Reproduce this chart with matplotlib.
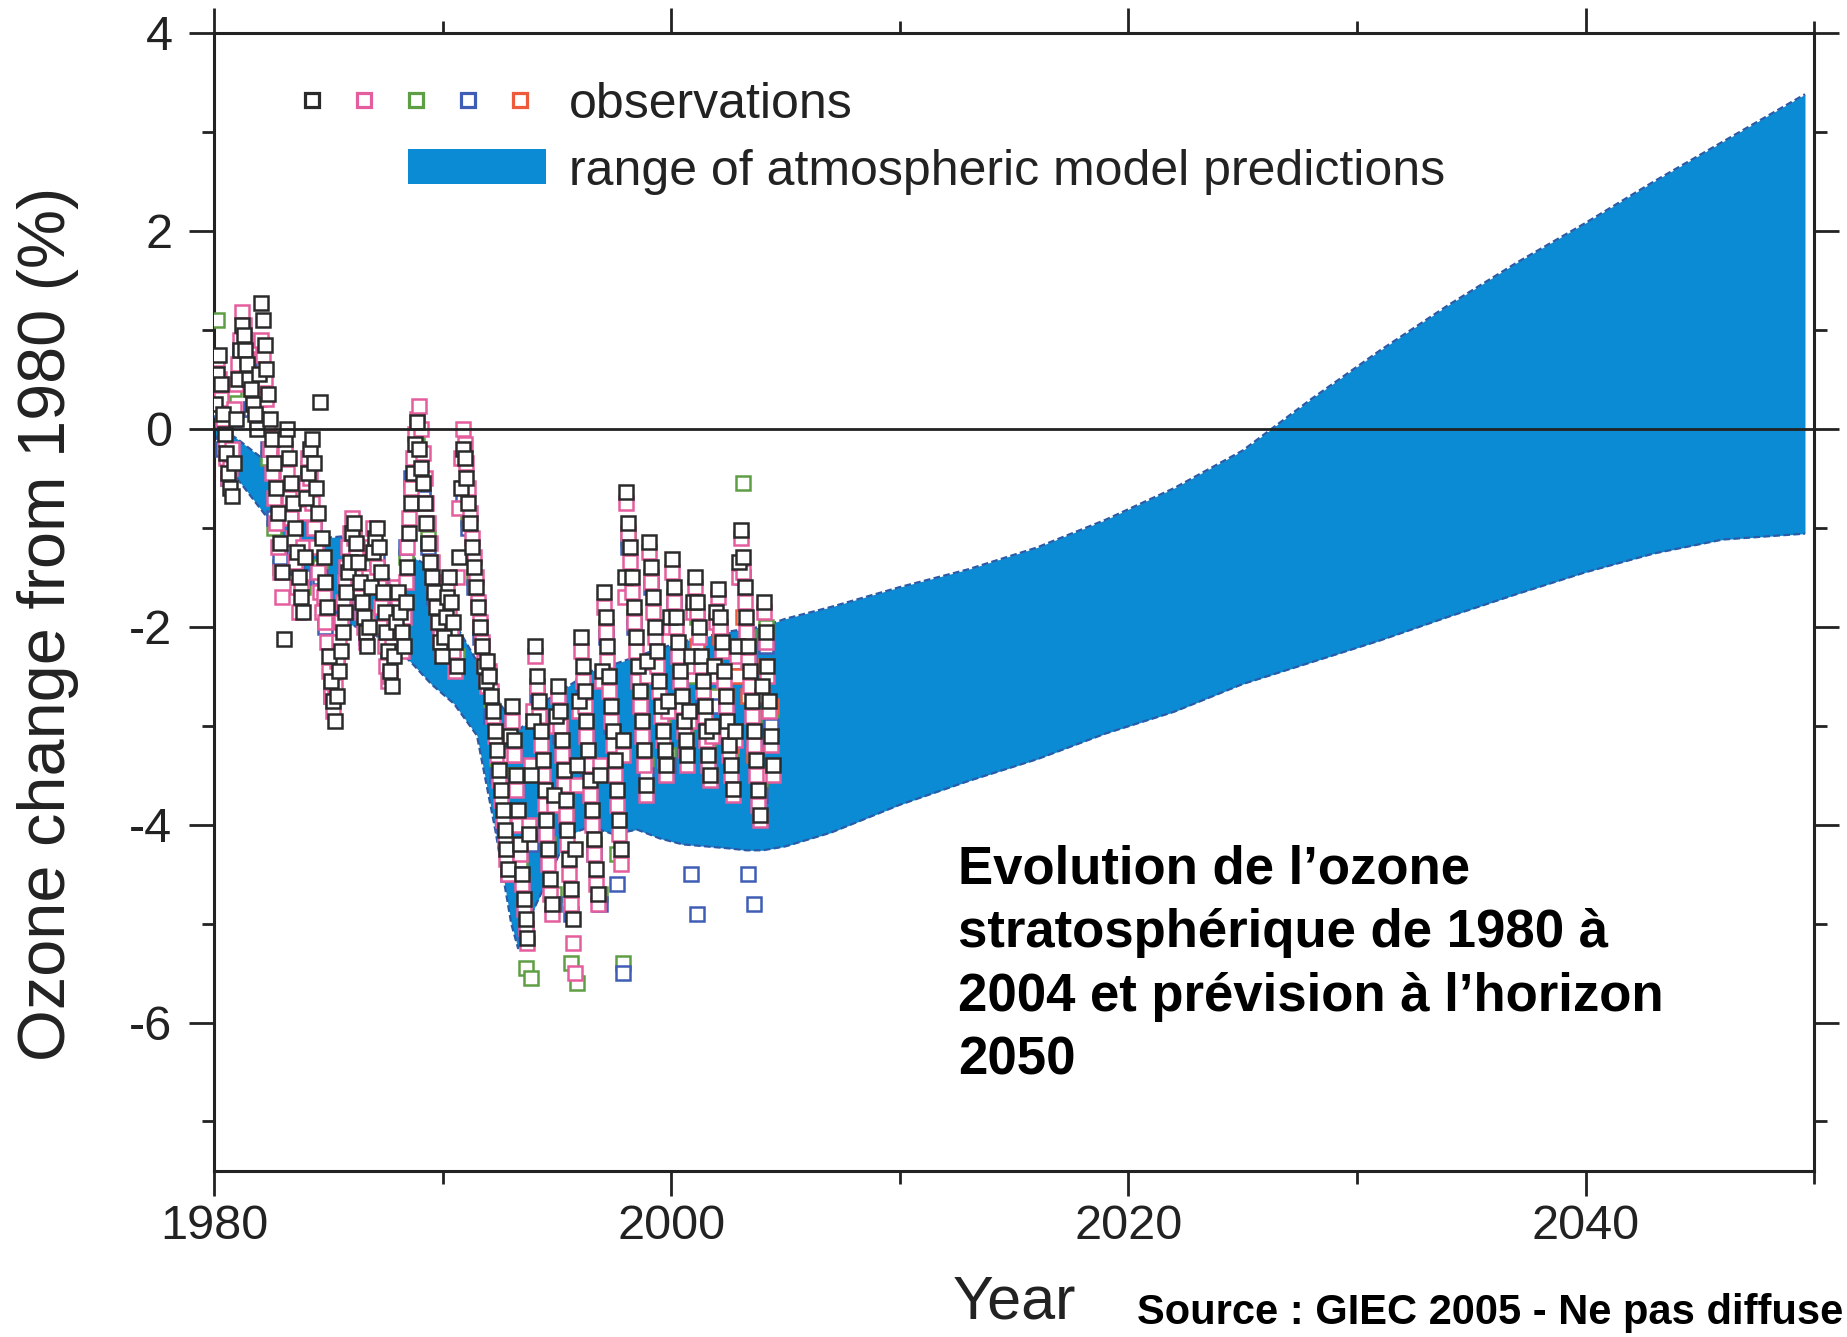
import matplotlib
matplotlib.use("Agg")
import matplotlib.pyplot as plt
from matplotlib.lines import Line2D
from matplotlib.patches import Patch, Rectangle
from matplotlib.legend_handler import HandlerTuple, HandlerPatch
from matplotlib.ticker import MultipleLocator

plt.rcParams['font.family'] = ['Liberation Sans', 'DejaVu Sans']
plt.rcParams['axes.unicode_minus'] = False

# Model range (percent change from 1980), lower and upper edge.
band_year = [1980.0, 1981.0, 1982.0, 1983.0, 1984.0, 1985.0, 1986.0, 1987.0, 1988.0,
             1988.7, 1989.5, 1990.5, 1991.5, 1992.3, 1993.0, 1993.3, 1993.8, 1994.5,
             1995.5, 1996.5, 1997.5, 1998.5, 1999.5, 2000.5, 2001.5, 2002.5, 2003.3,
             2004.0, 2005, 2007, 2010, 2013, 2016, 2019, 2022, 2025, 2028, 2031, 2034,
             2037, 2040, 2043, 2046, 2049.6]
band_low = [-0.05, -0.5, -0.8, -1.1, -1.42, -1.8, -1.98, -2.08, -2.22,
            -2.38, -2.58, -2.78, -3.1, -4.05, -5.0, -5.25, -4.95, -4.6,
            -4.1, -4.02, -4.1, -4.05, -4.14, -4.2, -4.22, -4.24, -4.26,
            -4.26, -4.22, -4.08, -3.8, -3.56, -3.34, -3.08, -2.86, -2.58, -2.36, -2.14, -1.9,
            -1.67, -1.45, -1.26, -1.12, -1.06]
band_high = [0.05, -0.1, -0.28, -0.6, -0.9, -1.1, -1.08, -1.45, -1.55,
             -1.3, -1.4, -1.95, -2.35, -2.7, -2.95, -3.05, -2.95, -2.75,
             -2.6, -2.45, -2.38, -2.3, -2.22, -2.15, -2.1, -2.05, -2.02,
             -2.0, -1.92, -1.8, -1.6, -1.42, -1.2, -0.92, -0.6, -0.22, 0.3, 0.79, 1.25,
             1.68, 2.08, 2.5, 2.9, 3.38]

# Monthly observations, one row per year from 1980 (2004 is half a year).
obs_black = [
    [0.25, 0.55, 0.75, 0.45, 0.15, -0.05, -0.25, -0.45, -0.6, -0.68, -0.35, 0.1],
    [0.5, 0.8, 1.05, 0.95, 0.8, 0.65, 0.5, 0.4, 0.25, 0.15, 0.0, 0.55],
    [1.27, 1.1, 0.85, 0.6, 0.35, 0.1, -0.1, -0.35, -0.6, -0.85, -1.15, -1.45],
    [-2.12, -0.1, 0.0, -0.3, -0.55, -0.75, -1.0, -1.25, -1.5, -1.7, -1.85, -1.3],
    [-0.7, -0.45, -0.2, -0.1, -0.35, -0.6, -0.85, 0.27, -1.1, -1.3, -1.55, -1.8],
    [-2.3, -2.55, -2.75, -2.95, -2.7, -2.45, -2.25, -2.05, -1.85, -1.65, -1.45, -1.35],
    [-1.05, -0.95, -1.15, -1.35, -1.55, -1.75, -1.9, -2.05, -2.2, -2.0, -1.6, -1.25],
    [-1.1, -1.0, -1.2, -1.45, -1.65, -1.85, -2.05, -2.25, -2.45, -2.6, -2.3, -1.95],
    [-1.65, -1.85, -2.05, -2.2, -1.75, -1.4, -1.05, -0.75, -0.45, -0.15, 0.07, -0.2],
    [-0.4, -0.55, -0.75, -0.95, -1.15, -1.35, -1.5, -1.65, -1.8, -1.95, -2.15, -2.3],
    [-2.1, -1.9, -1.7, -1.5, -1.75, -1.95, -2.15, -2.4, -1.3, -0.6, -0.2, -0.3],
    [-0.5, -0.75, -0.95, -1.2, -1.4, -1.6, -1.8, -2.0, -2.2, -2.4, -2.55, -2.35],
    [-2.5, -2.7, -2.85, -3.05, -3.25, -3.45, -3.65, -3.85, -4.05, -4.25, -4.45, -3.1],
    [-2.8, -3.15, -3.5, -3.85, -4.2, -4.5, -4.75, -4.95, -5.15, -4.1, -3.5, -2.95],
    [-2.2, -2.5, -2.75, -3.05, -3.35, -3.65, -3.95, -4.25, -4.55, -4.8, -3.7, -2.9],
    [-2.6, -2.85, -3.15, -3.45, -3.75, -4.05, -4.35, -4.65, -4.95, -4.25, -3.4, -2.75],
    [-2.1, -2.4, -2.65, -2.95, -3.25, -3.55, -3.85, -4.15, -4.45, -4.7, -3.5, -2.45],
    [-1.65, -1.9, -2.2, -2.5, -2.8, -3.05, -3.35, -3.65, -3.95, -4.25, -3.15, -1.5],
    [-0.64, -0.95, -1.2, -1.5, -1.8, -2.1, -2.4, -2.65, -2.95, -3.25, -3.6, -2.35],
    [-1.14, -1.4, -1.7, -2.0, -2.25, -2.55, -2.8, -3.05, -3.25, -3.4, -2.75, -1.9],
    [-1.32, -1.6, -1.9, -2.15, -2.45, -2.7, -2.95, -3.15, -3.3, -2.85, -2.3, -1.75],
    [-1.5, -1.75, -2.0, -2.3, -2.55, -2.8, -3.05, -3.3, -3.5, -3.0, -2.4, -1.85],
    [-1.62, -1.9, -2.15, -2.45, -2.7, -2.95, -3.2, -3.4, -3.64, -3.05, -2.2, -1.35],
    [-1.02, -1.3, -1.6, -1.9, -2.2, -2.45, -2.75, -3.05, -3.35, -3.65, -3.9, -2.6],
    [-1.75, -2.05, -2.4, -2.75, -3.1, -3.4],
]
obs_pink = [
    [0.55, 0.7, 0.5, 0.3, 0.1, -0.1, -0.3, -0.5, -0.4, -0.2, 0.2, 0.45],
    [0.65, 0.9, 1.18, 1.05, 0.9, 0.7, 0.55, 0.4, 0.34, 0.2, 0.05, 0.3],
    [0.9, 0.75, 0.5, 0.3, 0.05, -0.2, -0.45, -0.7, -0.95, -1.2, -1.45, -1.7],
    [-0.3, -0.2, -0.45, -0.7, -0.9, -1.1, -1.35, -1.6, -1.85, -1.6, -1.2, -0.85],
    [-0.55, -0.3, -0.5, -0.75, -1.0, -1.2, -1.45, -1.65, -1.85, -1.7, -1.95, -2.15],
    [-2.45, -2.7, -2.85, -2.6, -2.35, -2.15, -1.95, -1.75, -1.55, -1.4, -1.2, -1.05],
    [-0.9, -1.1, -1.3, -1.5, -1.7, -1.85, -2.0, -2.15, -1.9, -1.5, -1.2, -1.0],
    [-1.2, -1.4, -1.6, -1.8, -2.0, -2.2, -2.4, -2.55, -2.5, -2.2, -1.9, -1.6],
    [-1.8, -2.0, -2.25, -1.9, -1.55, -1.2, -0.9, -0.6, -0.3, -0.05, 0.1, 0.23],
    [0.0, -0.25, -0.5, -0.75, -0.95, -1.15, -1.35, -1.55, -1.75, -1.95, -2.1, -2.25],
    [-2.0, -1.8, -1.6, -1.85, -2.05, -2.25, -2.45, -1.5, -0.8, -0.3, 0.0, -0.15],
    [-0.35, -0.6, -0.85, -1.1, -1.3, -1.5, -1.75, -1.95, -2.15, -2.35, -2.5, -2.6],
    [-2.45, -2.65, -2.9, -3.1, -3.3, -3.55, -3.75, -3.95, -4.15, -4.35, -4.5, -3.3],
    [-2.95, -3.3, -3.65, -4.0, -4.3, -4.6, -4.85, -5.05, -5.2, -4.0, -3.4, -2.85],
    [-2.3, -2.6, -2.9, -3.2, -3.5, -3.8, -4.1, -4.4, -4.7, -4.9, -3.8, -3.0],
    [-2.7, -3.0, -3.3, -3.6, -3.9, -4.2, -4.5, -4.8, -5.2, -5.5, -3.6, -2.85],
    [-2.25, -2.55, -2.8, -3.1, -3.4, -3.7, -4.0, -4.3, -4.6, -4.8, -3.4, -2.55],
    [-1.8, -2.05, -2.35, -2.65, -2.95, -3.2, -3.5, -3.8, -4.1, -4.4, -3.3, -1.7],
    [-0.75, -1.05, -1.35, -1.65, -1.95, -2.25, -2.55, -2.8, -3.1, -3.4, -3.7, -2.5],
    [-1.25, -1.55, -1.85, -2.1, -2.4, -2.65, -2.9, -3.15, -3.35, -3.5, -2.85, -2.0],
    [-1.45, -1.75, -2.0, -2.3, -2.55, -2.8, -3.05, -3.25, -3.4, -2.95, -2.4, -1.85],
    [-1.6, -1.85, -2.1, -2.4, -2.65, -2.9, -3.15, -3.4, -3.55, -3.1, -2.5, -1.95],
    [-1.7, -2.0, -2.25, -2.55, -2.8, -3.05, -3.3, -3.5, -3.7, -3.15, -2.3, -1.5],
    [-1.1, -1.45, -1.75, -2.05, -2.35, -2.6, -2.9, -3.2, -3.5, -3.8, -3.95, -2.7],
    [-1.85, -2.15, -2.5, -2.85, -3.2, -3.5],
]

# Quarterly observations, one row per year from 1980.
obs_green = [
    [1.1, 0.3, -0.3, 0.4], [0.7, 0.6, 0.2, 0.3], [0.4, -0.3, -1.0, -1.4],
    [-0.2, -0.8, -1.4, -1.6], [-0.4, -0.9, -1.4, -1.9], [-2.6, -2.2, -1.8, -1.4],
    [-1.1, -1.6, -2.0, -1.4], [-1.2, -1.7, -2.2, -2.1], [-2.0, -1.3, -0.6, -0.1],
    [-0.6, -1.1, -1.6, -2.0], [-1.8, -2.0, -2.3, -0.6], [-0.9, -1.5, -2.0, -2.45],
    [-2.8, -3.4, -3.9, -4.4], [-3.5, -4.4, -5.45, -5.55], [-2.6, -3.4, -4.2, -4.7],
    [-3.0, -3.9, -5.4, -5.6], [-2.6, -3.4, -4.2, -4.7], [-2.0, -2.8, -4.3, -5.4],
    [-1.1, -1.9, -2.7, -3.4], [-1.5, -2.3, -3.0, -3.3], [-1.7, -2.4, -3.1, -2.5],
    [-1.9, -2.6, -3.2, -2.7], [-2.0, -2.7, -3.3, -2.4], [-0.55, -2.1, -2.9, -3.6],
    [-2.0, -2.9],
]
obs_blue = [
    [0.2, -0.2, -0.5, 0.1], [0.8, 0.5, 0.2, 0.1], [0.6, -0.2, -0.9, -1.3],
    [-0.3, -0.9, -1.4, -1.5], [-0.5, -1.0, -1.5, -2.0], [-2.7, -2.3, -1.9, -1.5],
    [-1.2, -1.7, -2.1, -1.5], [-1.3, -1.8, -2.3, -2.0], [-1.9, -1.2, -0.5, -0.3],
    [-0.7, -1.2, -1.7, -2.1], [-1.9, -2.1, -2.4, -0.7], [-1.0, -1.6, -2.1, -2.5],
    [-2.9, -3.5, -4.0, -4.5], [-3.6, -4.5, -5.1, -4.2], [-2.7, -3.5, -4.3, -4.8],
    [-3.1, -4.0, -4.9, -3.6], [-2.7, -3.5, -4.3, -4.8], [-2.1, -3.0, -4.6, -5.5],
    [-1.2, -2.0, -2.8, -3.5], [-1.6, -2.4, -3.1, -3.4], [-1.8, -2.5, -3.2, -4.5],
    [-4.9, -2.7, -3.3, -2.8], [-2.1, -2.8, -3.4, -2.5], [-1.5, -4.5, -4.8, -3.7],
    [-2.2, -3.0],
]
# Quarterly, 2001 to mid-2004.
obs_orange = [[-2.2, -2.6, -3.0, -2.4], [-2.1, -2.7, -3.2, -2.5],
              [-1.9, -2.7, -3.3, -3.5], [-2.4, -2.8]]

obs_colors = ['#2a2a2a', '#e45d9d', '#5e9e44', '#3f5db5', '#ee5a3c']
band_color = '#0b8bd4'
edge_color = '#2b5aa6'


def series_xy(rows, start, per_year):
    xs, ys = [], []
    for i, row in enumerate(rows):
        for k, v in enumerate(row):
            xs.append(start + i + (k + 0.5) / per_year)
            ys.append(v)
    return xs, ys


fig = plt.figure(figsize=(18.47, 13.37), dpi=100)
ax = fig.add_axes([0.1159, 0.1242, 0.8663, 0.8512])

ax.fill_between(band_year, band_low, band_high, color=band_color, lw=0, zorder=1)
ax.plot(band_year, band_high, color=edge_color, lw=1.6, ls=(0, (3, 1.5)), zorder=1.5)
ax.plot(band_year, band_low, color=edge_color, lw=1.6, ls=(0, (3, 1.5)), zorder=1.5)

ax.axhline(0, color='#222222', lw=2.0, zorder=4)

groups = [(obs_green, 1980, 4, obs_colors[2]),
          (obs_blue, 1980, 4, obs_colors[3]),
          (obs_orange, 2001, 4, obs_colors[4]),
          (obs_pink, 1980, 12, obs_colors[1]),
          (obs_black, 1980, 12, obs_colors[0])]
for rows, start, per_year, col in groups:
    xs, ys = series_xy(rows, start, per_year)
    ax.plot(xs, ys, ls='none', marker='s', ms=10, mfc='white', mec=col,
            mew=1.8, zorder=3)

ax.set_xlim(1980, 2050)
ax.set_ylim(-7.5, 4)
ax.xaxis.set_major_locator(MultipleLocator(20))
ax.xaxis.set_minor_locator(MultipleLocator(10))
ax.yaxis.set_major_locator(MultipleLocator(2))
ax.yaxis.set_minor_locator(MultipleLocator(1))
ax.tick_params(which='both', direction='out', top=True, right=True,
               width=2, color='#222222', labelsize=35, labelcolor='#222222')
ax.tick_params(which='major', length=18)
ax.tick_params(which='minor', length=9)
ax.tick_params(axis='x', pad=6)
ax.tick_params(axis='y', pad=12)
for sp in ax.spines.values():
    sp.set_linewidth(2.2)
    sp.set_color('#222222')

ax.set_ylabel('Ozone change from 1980 (%)', fontsize=48, color='#222222')
ax.yaxis.set_label_coords(-0.0844, 0.481)
ax.set_xlabel('Year', fontsize=44, color='#222222')
ax.xaxis.set_label_coords(0.5, -0.091)

# Legend
obs_handle = tuple(Line2D([], [], ls='none', marker='s', ms=9.5, mfc='white',
                          mec=c, mew=2.3) for c in obs_colors)
band_handle = Patch(facecolor=band_color, edgecolor='none')


def band_patch(legend, orig_handle, xdescent, ydescent, width, height, fontsize):
    return Rectangle((-xdescent + 0.47 * width, -ydescent + 0.02 * height),
                     0.53 * width, 1.0 * height)


ax.legend([obs_handle, band_handle],
          ['observations', 'range of atmospheric model predictions'],
          handler_map={tuple: HandlerTuple(ndivide=None, pad=0),
                       Patch: HandlerPatch(patch_func=band_patch)},
          loc='upper left', bbox_to_anchor=(0.045, 0.957), frameon=False,
          fontsize=36, handlelength=5.2, handletextpad=0.46, borderpad=0,
          borderaxespad=0, labelspacing=0.42, handleheight=0.7,
          labelcolor='#222222')

ax.text(0.465, 0.287,
        "Evolution de l’ozone\nstratosphérique de 1980 à\n2004 et prévision à l’horizon\n2050",
        transform=ax.transAxes, fontsize=38, fontweight='bold', va='top',
        ha='left', linespacing=1.35, color='black', zorder=5)

fig.text(0.6156, 0.018, "Source : GIEC 2005 - Ne pas diffuse", fontsize=30,
         fontweight='bold', va='center', ha='left', color='black')

fig.savefig('out.png', dpi=100)
